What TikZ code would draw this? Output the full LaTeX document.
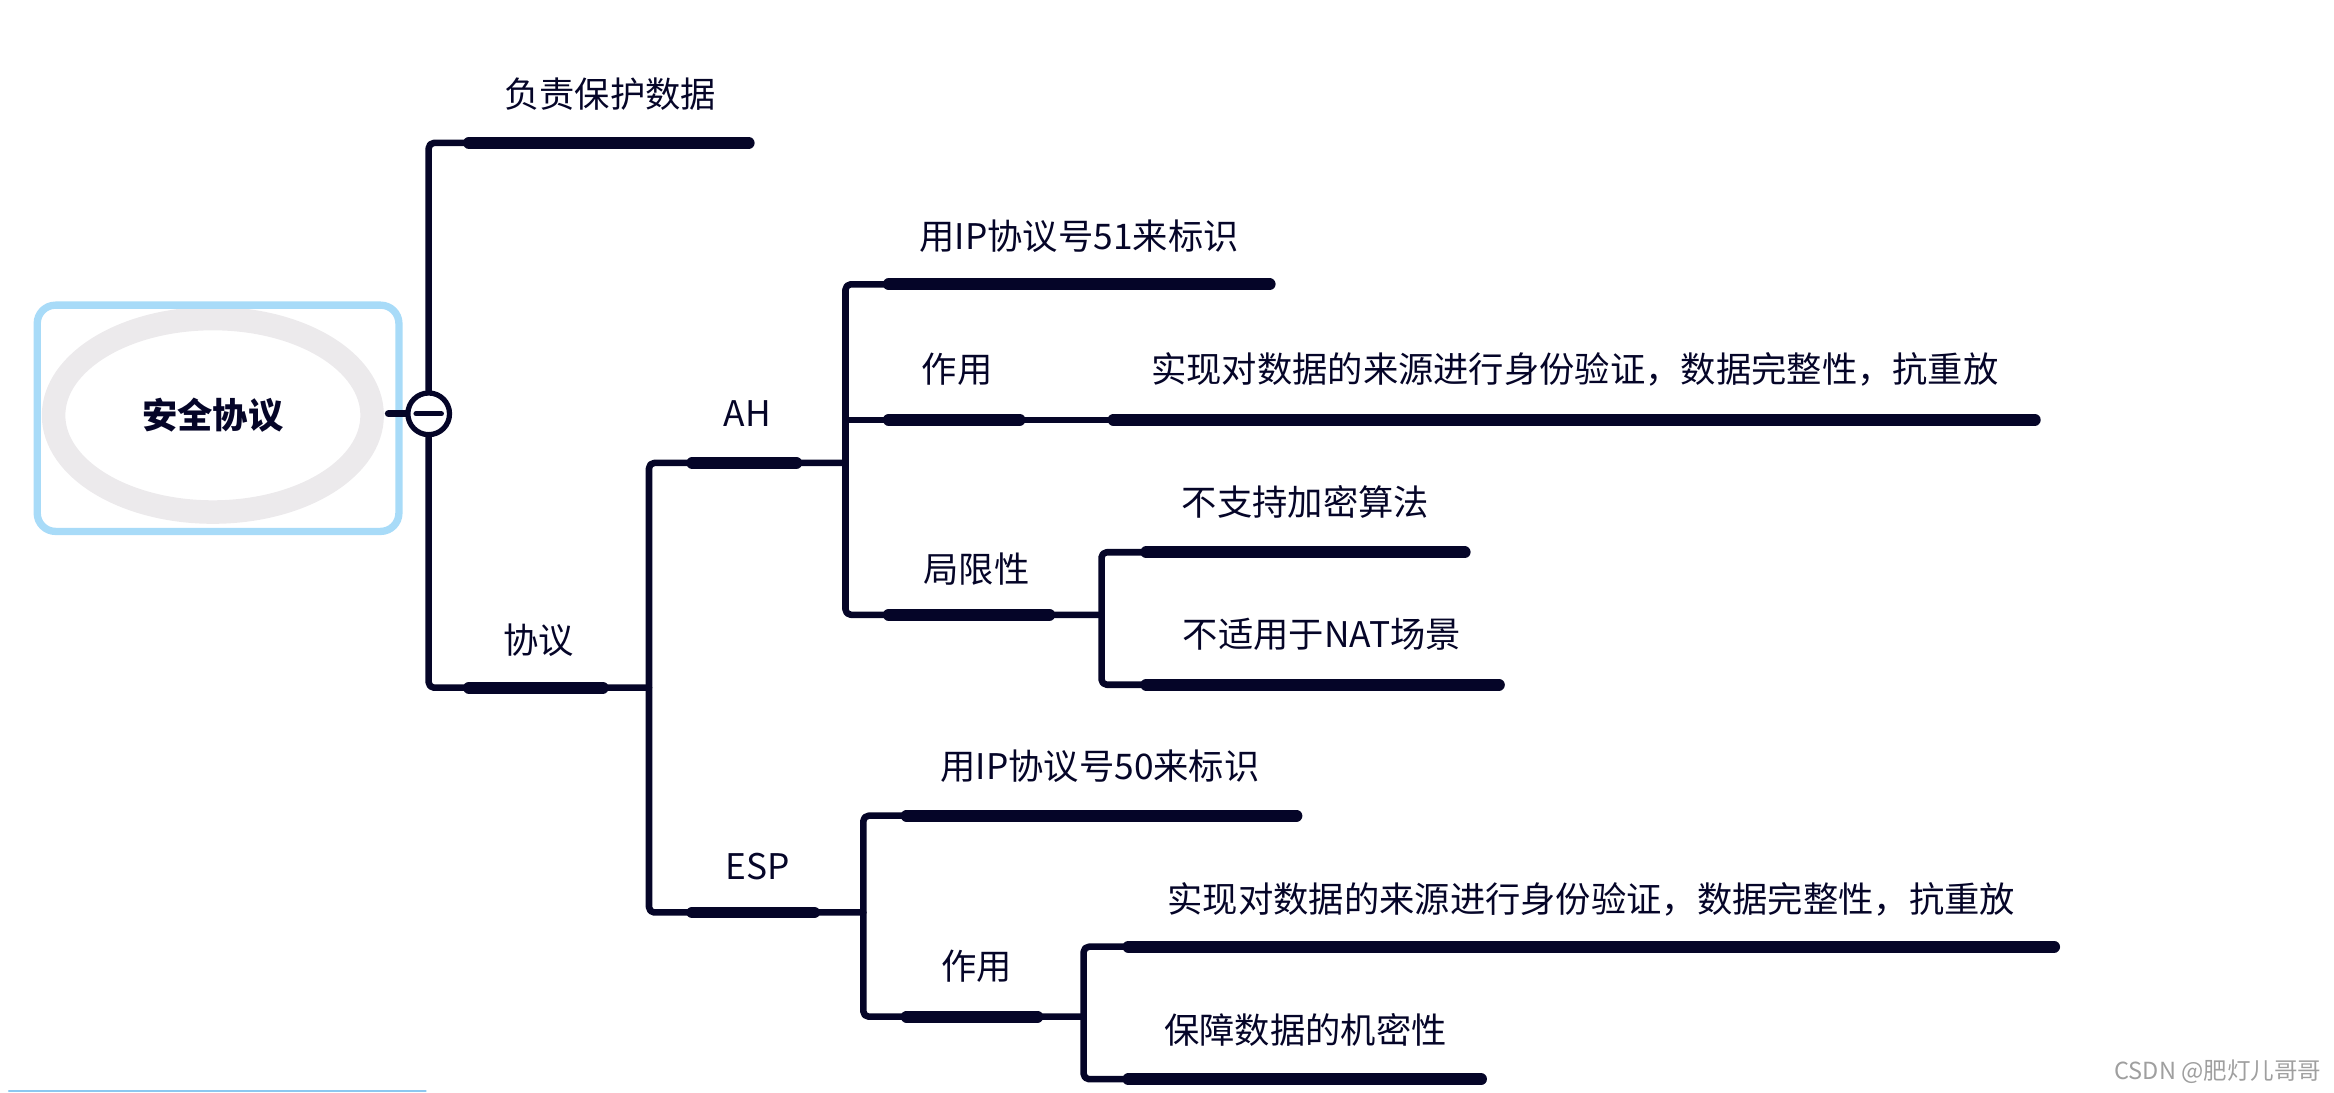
\documentclass[tikz,border=0pt]{standalone}
\usepackage{fontspec}
\setmainfont{Noto Sans CJK SC}
\usetikzlibrary{positioning}
\definecolor{ink}{HTML}{050528}
\definecolor{rootblue}{HTML}{A8DBF8}
\definecolor{rootgray}{HTML}{ECEAEC}
\definecolor{scrollblue}{HTML}{8CC8F0}

\begin{document}
\begin{tikzpicture}[x=0.02cm, y=-0.02cm, line cap=round, line join=round,
    every node/.style={text=ink, inner sep=0pt, font=\fontsize{13.5}{16}\selectfont},
    limb/.style={draw=ink, line width=2.5pt, rounded corners=2pt},
    stroke/.style={draw=ink, line width=4.5pt},
    toggle/.style={circle, draw=ink, fill=white, line width=2pt, minimum size=0.56cm}]

    \useasboundingbox (0,0) rectangle (1568,734);

    % root topic
    \draw[rootgray, line width=9pt] (143,279) ellipse [x radius=107, y radius=65];
    \draw[rootblue, line width=2.8pt, rounded corners=7pt] (25,205) rectangle (268,357);
    \node[font=\fontsize{13.5}{16}\selectfont\bfseries] (security) at (143,279) {安全协议};
    \coordinate (security-e) at (261,278);
    \node[toggle] (toggle) at (288,278) {};
    \draw[ink, line width=2.8pt] (security-e) -- (toggle.west);
    \draw[ink, line width=2pt] ([xshift=-0.17cm]toggle.center) -- ([xshift=0.17cm]toggle.center);

    % labels
    \node (protect) at (410,63) {负责保护数据};
    \node (protocol) at (362,430) {协议};
    \node (ah) at (502,278) {AH};
    \node (esp) at (509,582) {ESP};
    \node (ahid) at (725,159) {用IP协议号51来标识};
    \node (ahrole) at (643,248) {作用};
    \node (ahauth) at (1058,248) {实现对数据的来源进行身份验证，数据完整性，抗重放};
    \node (ahlimit) at (656,382) {局限性};
    \node (noenc) at (877,337) {不支持加密算法};
    \node (nonat) at (888,426) {不适用于NAT场景};
    \node (espid) at (739,515) {用IP协议号50来标识};
    \node (esprole) at (656,649) {作用};
    \node (espauth) at (1069,604) {实现对数据的来源进行身份验证，数据完整性，抗重放};
    \node (espconf) at (877,692) {保障数据的机密性};

    % branch ends
    \coordinate (protect-s) at (315,96);   \coordinate (protect-e) at (503,96);
    \coordinate (protocol-s) at (315,462); \coordinate (protocol-m) at (405,462); \coordinate (protocol-e) at (436,462);
    \coordinate (ah-s) at (465,311);  \coordinate (ah-m) at (535,311);  \coordinate (ah-e) at (568,311);
    \coordinate (esp-s) at (465,613); \coordinate (esp-m) at (547,613); \coordinate (esp-e) at (580,613);
    \coordinate (ahid-s) at (597,191); \coordinate (ahid-e) at (853,191);
    \coordinate (ahrole-f) at (568,282); \coordinate (ahrole-s) at (597,282); \coordinate (ahrole-m) at (685,282); \coordinate (ahrole-e) at (745,282);
    \coordinate (ahauth-s) at (748,282); \coordinate (ahauth-e) at (1367,282);
    \coordinate (ahlimit-s) at (597,413); \coordinate (ahlimit-m) at (705,413); \coordinate (ahlimit-e) at (740,413);
    \coordinate (noenc-s) at (770,371); \coordinate (noenc-e) at (984,371);
    \coordinate (nonat-s) at (770,460); \coordinate (nonat-e) at (1007,460);
    \coordinate (espid-s) at (609,548); \coordinate (espid-e) at (871,548);
    \coordinate (esprole-s) at (609,683); \coordinate (esprole-m) at (697,683); \coordinate (esprole-e) at (728,683);
    \coordinate (espauth-s) at (758,636); \coordinate (espauth-e) at (1380,636);
    \coordinate (espconf-s) at (758,725); \coordinate (espconf-e) at (995,725);

    % limbs
    \draw[limb] (toggle.north) |- (protect-e);
    \draw[limb] (toggle.south) |- (protocol-e);
    \draw[limb] (ah-e) -| (protocol-e) |- (esp-e);
    \draw[limb] (ahid-e) -| (ah-e) |- (ahlimit-e);
    \draw[limb] (ahrole-f) -- (ahrole-e);
    \draw[limb] (ahauth-s) -- (ahauth-e);
    \draw[limb] (noenc-e) -| (ahlimit-e) |- (nonat-e);
    \draw[limb] (espid-e) -| (esp-e) |- (esprole-e);
    \draw[limb] (espauth-e) -| (esprole-e) |- (espconf-e);

    % thick strokes under labels
    \draw[stroke] (protect-s) -- (protect-e);
    \draw[stroke] (protocol-s) -- (protocol-m);
    \draw[stroke] (ah-s) -- (ah-m);
    \draw[stroke] (esp-s) -- (esp-m);
    \draw[stroke] (ahid-s) -- (ahid-e);
    \draw[stroke] (ahrole-s) -- (ahrole-m);
    \draw[stroke] (ahauth-s) -- (ahauth-e);
    \draw[stroke] (ahlimit-s) -- (ahlimit-m);
    \draw[stroke] (noenc-s) -- (noenc-e);
    \draw[stroke] (nonat-s) -- (nonat-e);
    \draw[stroke] (espid-s) -- (espid-e);
    \draw[stroke] (esprole-s) -- (esprole-m);
    \draw[stroke] (espauth-s) -- (espauth-e);
    \draw[stroke] (espconf-s) -- (espconf-e);

    \node[text=gray!75, font=\fontsize{9}{11}\selectfont] (credit) at (1490,720) {CSDN @肥灯儿哥哥};
    \draw[scrollblue, line width=0.8pt] (6,733) -- (286,733);

\end{tikzpicture}
\end{document}
